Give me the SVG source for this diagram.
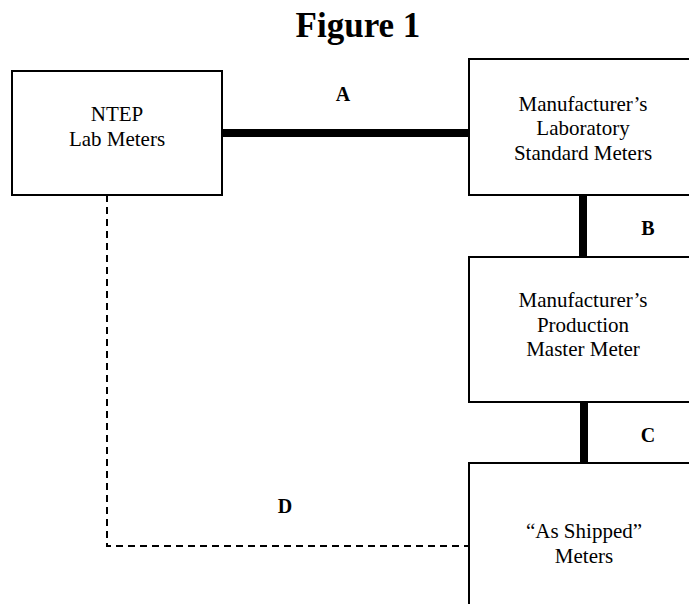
<svg xmlns="http://www.w3.org/2000/svg" width="689" height="604" viewBox="0 0 689 604">
<style>
.box{fill:#fff;stroke:#000;stroke-width:2}
.t{font-family:"Liberation Serif","Times New Roman",serif;font-size:21px;text-anchor:middle;fill:#000}
.lbl{font-family:"Liberation Serif","Times New Roman",serif;font-size:20px;font-weight:bold;text-anchor:middle;fill:#000}
.solid{stroke:#000;stroke-width:8;fill:none}
.dash{stroke:#000;stroke-width:2;fill:none;stroke-dasharray:7 5}
</style>
<rect width="689" height="604" fill="#fff"/>
<text x="358" y="37" font-family="'Liberation Serif','Times New Roman',serif" font-size="35" font-weight="bold" text-anchor="middle">Figure 1</text>
<g id="connectors">
<line class="solid" x1="221" y1="133" x2="469" y2="133"/>
<line class="solid" x1="583" y1="195" x2="583" y2="257"/>
<line class="solid" x1="584" y1="402" x2="584" y2="463"/>
<polyline class="dash" points="107,195 107,546 469,546"/>
<text class="lbl" x="343" y="101">A</text>
<text class="lbl" x="648" y="235">B</text>
<text class="lbl" x="648" y="442">C</text>
<text class="lbl" x="285" y="513">D</text>
</g>
<g id="ntep">
<rect class="box" x="12" y="71" width="210" height="124"/>
<text class="t" x="117" y="121">NTEP</text>
<text class="t" x="117" y="146">Lab Meters</text>
</g>
<g id="lab-standard">
<rect class="box" x="469" y="59" width="240" height="136"/>
<text class="t" x="583" y="111">Manufacturer’s</text>
<text class="t" x="583" y="135">Laboratory</text>
<text class="t" x="583" y="160">Standard Meters</text>
</g>
<g id="production-master">
<rect class="box" x="469" y="257" width="240" height="145"/>
<text class="t" x="583" y="307">Manufacturer’s</text>
<text class="t" x="583" y="332">Production</text>
<text class="t" x="583" y="356">Master Meter</text>
</g>
<g id="as-shipped">
<rect class="box" x="469" y="463" width="240" height="160"/>
<text class="t" x="584" y="538">“As Shipped”</text>
<text class="t" x="584" y="563">Meters</text>
</g>
</svg>
